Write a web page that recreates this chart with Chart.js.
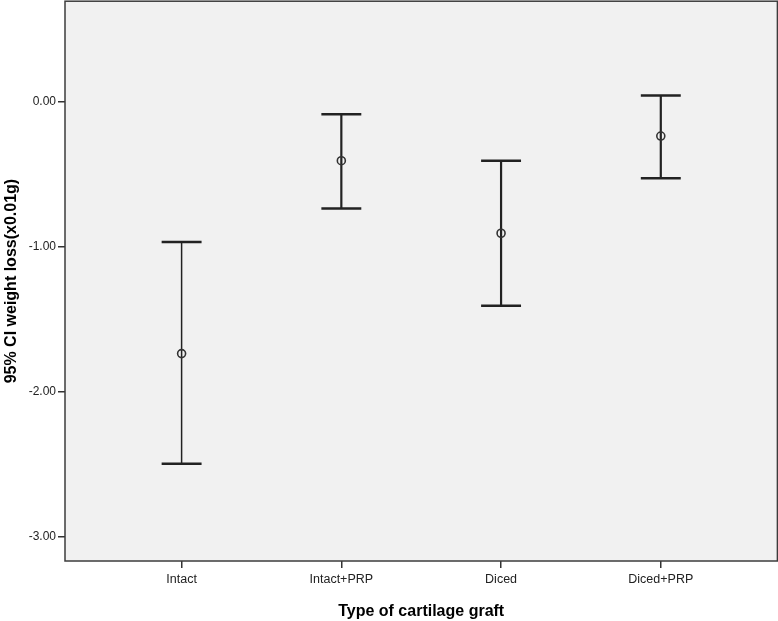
<!DOCTYPE html>
<html>
<head>
<meta charset="utf-8">
<script src="https://cdn.jsdelivr.net/npm/chart.js@4"></script>
<style>
  html, body { margin: 0; padding: 0; background: #fff; overflow: hidden; }
  #wrap { width: 778px; height: 621px; overflow: hidden; position: relative; }
  #chart { position: absolute; left: 0; top: -8px; }
</style>
</head>
<body>
<div id="wrap"><canvas id="chart" width="783" height="629"></canvas></div>
<script>
// groups on the x axis
const categories = ["Intact", "Intact+PRP", "Diced", "Diced+PRP"];
// mean and 95% CI bounds
const means = [-1.74, -0.41, -0.91, -0.24];
const lower = [-2.50, -0.74, -1.41, -0.53];
const upper = [-0.97, -0.09, -0.41, 0.04];
const yTicks = [0, -1, -2, -3];

const whiskerWidths = [1.5, 2.2, 2.2, 2.2];

// draws the grey plot area and its frame
const plotBox = {
  id: "plotBox",
  beforeDatasetsDraw(chart) {
    const { ctx, chartArea: a } = chart;
    ctx.save();
    ctx.fillStyle = "#f1f1f1";
    ctx.fillRect(a.left, a.top, a.right - a.left, a.bottom - a.top);
    ctx.restore();
  },
  afterDraw(chart) {
    const { ctx, chartArea: a } = chart;
    ctx.save();
    ctx.strokeStyle = "#3c3c3c";
    ctx.lineWidth = 1.5;
    ctx.strokeRect(a.left, a.top, a.right - a.left, a.bottom - a.top);
    ctx.restore();
  }
};

// error bars from the CI arrays, placed with the chart's own scales
const errorBars = {
  id: "errorBars",
  beforeDatasetsDraw(chart) {
    const { ctx, scales } = chart;
    const xs = scales.x, ys = scales.y;
    const capHalf = 0.125;
    ctx.save();
    ctx.strokeStyle = "#222";
    categories.forEach((c, i) => {
      const x = xs.getPixelForValue(i);
      const yl = ys.getPixelForValue(lower[i]);
      const yu = ys.getPixelForValue(upper[i]);
      const x0 = xs.getPixelForValue(i - capHalf);
      const x1 = xs.getPixelForValue(i + capHalf);
      ctx.lineWidth = whiskerWidths[i];
      ctx.beginPath();
      ctx.moveTo(x, yu); ctx.lineTo(x, yl);
      ctx.stroke();
      ctx.lineWidth = 2.5;
      ctx.beginPath();
      ctx.moveTo(x0, yu); ctx.lineTo(x1, yu);
      ctx.moveTo(x0, yl); ctx.lineTo(x1, yl);
      ctx.stroke();
    });
    ctx.restore();
  }
};

new Chart(document.getElementById("chart"), {
  type: "scatter",
  data: {
    datasets: [{
      label: "Mean",
      data: means.map((m, i) => ({ x: i, y: m })),
      pointStyle: "circle",
      pointRadius: 4,
      pointBorderWidth: 1.6,
      pointBorderColor: "#333",
      pointBackgroundColor: "rgba(0,0,0,0)"
    }]
  },
  options: {
    responsive: false,
    animation: false,
    layout: { padding: { top: 1, right: 1, left: 0, bottom: 0 } },
    plugins: { legend: { display: false }, tooltip: { enabled: false } },
    scales: {
      x: {
        type: "linear",
        min: -0.73,
        max: 3.73,
        afterBuildTicks: (s) => { s.ticks = categories.map((c, i) => ({ value: i })); },
        afterFit: (s) => { s.height = 60; },
        ticks: {
          callback: (v) => categories[v],
          color: "#222",
          font: { family: "Liberation Sans", size: 12.5 },
          padding: 4,
          maxRotation: 0
        },
        grid: { drawOnChartArea: false, tickLength: 7, color: "#333", lineWidth: 1.5 },
        border: { display: false },
        title: {
          display: true,
          text: "Type of cartilage graft",
          color: "#000",
          font: { family: "Liberation Sans", size: 16, weight: "bold" },
          padding: { top: 8, bottom: 0 }
        }
      },
      y: {
        min: -3.17,
        max: 0.69,
        afterBuildTicks: (s) => { s.ticks = yTicks.map((v) => ({ value: v })); },
        afterFit: (s) => { s.width = 65; },
        ticks: {
          callback: (v) => v.toFixed(2),
          color: "#222",
          font: { family: "Liberation Sans", size: 12 },
          padding: 2
        },
        grid: { drawOnChartArea: false, tickLength: 7, color: "#333", lineWidth: 1.5 },
        border: { display: false },
        title: {
          display: true,
          text: "95% CI weight loss(x0.01g)",
          color: "#000",
          font: { family: "Liberation Sans", size: 16, weight: "bold" },
          padding: { top: 2, bottom: 0 }
        }
      }
    }
  },
  plugins: [plotBox, errorBars]
});
</script>
</body>
</html>
